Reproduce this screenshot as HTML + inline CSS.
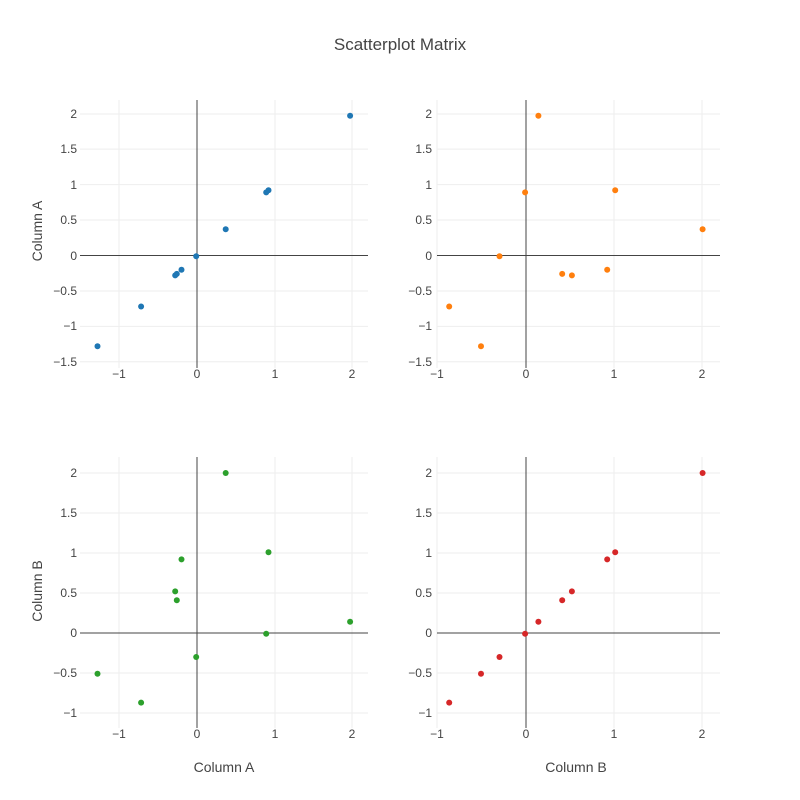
<!DOCTYPE html>
<html><head><meta charset="utf-8"><style>
body{margin:0;background:#fff}
svg{display:block;font-family:"Liberation Sans",sans-serif}
.g{stroke:#eee;stroke-width:1}
.z{stroke:#444;stroke-width:1}
.t{font-size:12px;fill:#444}
</style></head><body>
<svg width="800" height="800" xmlns="http://www.w3.org/2000/svg">
<rect width="800" height="800" fill="#fff"/>
<text x="400" y="50" text-anchor="middle" style="font-size:17px;fill:#444">Scatterplot Matrix</text>

<!-- Plot 1 -->
<g class="g">
<line x1="119" y1="100" x2="119" y2="368"/><line x1="275" y1="100" x2="275" y2="368"/><line x1="352" y1="100" x2="352" y2="368"/>
<line x1="80" y1="114" x2="368" y2="114"/><line x1="80" y1="149.1" x2="368" y2="149.1"/><line x1="80" y1="184.6" x2="368" y2="184.6"/><line x1="80" y1="220" x2="368" y2="220"/><line x1="80" y1="291" x2="368" y2="291"/><line x1="80" y1="326.4" x2="368" y2="326.4"/><line x1="80" y1="361.8" x2="368" y2="361.8"/>
</g>
<line class="z" x1="197" y1="100" x2="197" y2="368"/><line class="z" x1="80" y1="255.5" x2="368" y2="255.5"/>
<g fill="#1f77b4">
<circle cx="350.1" cy="115.8" r="3"/><circle cx="268.5" cy="190.3" r="3"/><circle cx="266.2" cy="192.4" r="3"/><circle cx="225.7" cy="229.3" r="3"/><circle cx="196.2" cy="256.2" r="3"/><circle cx="181.5" cy="269.7" r="3"/><circle cx="176.8" cy="273.9" r="3"/><circle cx="175.2" cy="275.4" r="3"/><circle cx="141.1" cy="306.5" r="3"/><circle cx="97.5" cy="346.3" r="3"/>
</g>
<g class="t" text-anchor="middle">
<text x="119" y="378">−1</text><text x="197" y="378">0</text><text x="275" y="378">1</text><text x="352" y="378">2</text>
</g>
<g class="t" text-anchor="end">
<text x="77" y="118">2</text><text x="77" y="153">1.5</text><text x="77" y="189">1</text><text x="77" y="224">0.5</text><text x="77" y="260">0</text><text x="77" y="295">−0.5</text><text x="77" y="330">−1</text><text x="77" y="366">−1.5</text>
</g>

<!-- Plot 2 -->
<g class="g">
<line x1="437" y1="100" x2="437" y2="368"/><line x1="614" y1="100" x2="614" y2="368"/><line x1="702" y1="100" x2="702" y2="368"/>
<line x1="437" y1="114" x2="720" y2="114"/><line x1="437" y1="149.1" x2="720" y2="149.1"/><line x1="437" y1="184.6" x2="720" y2="184.6"/><line x1="437" y1="220" x2="720" y2="220"/><line x1="437" y1="291" x2="720" y2="291"/><line x1="437" y1="326.4" x2="720" y2="326.4"/><line x1="437" y1="361.8" x2="720" y2="361.8"/>
</g>
<line class="z" x1="526" y1="100" x2="526" y2="368"/><line class="z" x1="437" y1="255.5" x2="720" y2="255.5"/>
<g fill="#ff7f0e">
<circle cx="538.4" cy="115.8" r="3"/><circle cx="525.1" cy="192.4" r="3"/><circle cx="615.2" cy="190.3" r="3"/><circle cx="702.6" cy="229.3" r="3"/><circle cx="499.5" cy="256.2" r="3"/><circle cx="562.2" cy="273.9" r="3"/><circle cx="571.9" cy="275.4" r="3"/><circle cx="607.2" cy="269.7" r="3"/><circle cx="449.2" cy="306.5" r="3"/><circle cx="481" cy="346.3" r="3"/>
</g>
<g class="t" text-anchor="middle">
<text x="437" y="378">−1</text><text x="526" y="378">0</text><text x="614" y="378">1</text><text x="702" y="378">2</text>
</g>
<g class="t" text-anchor="end">
<text x="432" y="118">2</text><text x="432" y="153">1.5</text><text x="432" y="189">1</text><text x="432" y="224">0.5</text><text x="432" y="260">0</text><text x="432" y="295">−0.5</text><text x="432" y="330">−1</text><text x="432" y="366">−1.5</text>
</g>

<!-- Plot 3 -->
<g class="g">
<line x1="119" y1="457" x2="119" y2="728"/><line x1="275" y1="457" x2="275" y2="728"/><line x1="352" y1="457" x2="352" y2="728"/>
<line x1="80" y1="473" x2="368" y2="473"/><line x1="80" y1="513" x2="368" y2="513"/><line x1="80" y1="553" x2="368" y2="553"/><line x1="80" y1="593" x2="368" y2="593"/><line x1="80" y1="673" x2="368" y2="673"/><line x1="80" y1="713" x2="368" y2="713"/>
</g>
<line class="z" x1="197" y1="457" x2="197" y2="728"/><line class="z" x1="80" y1="633" x2="368" y2="633"/>
<g fill="#2ca02c">
<circle cx="225.7" cy="473" r="3"/><circle cx="181.5" cy="559.4" r="3"/><circle cx="268.5" cy="552.2" r="3"/><circle cx="175.2" cy="591.4" r="3"/><circle cx="176.8" cy="600.2" r="3"/><circle cx="350.1" cy="621.8" r="3"/><circle cx="266.2" cy="633.8" r="3"/><circle cx="196.2" cy="657" r="3"/><circle cx="97.5" cy="673.8" r="3"/><circle cx="141.1" cy="702.6" r="3"/>
</g>
<g class="t" text-anchor="middle">
<text x="119" y="738">−1</text><text x="197" y="738">0</text><text x="275" y="738">1</text><text x="352" y="738">2</text>
</g>
<g class="t" text-anchor="end">
<text x="77" y="477">2</text><text x="77" y="517">1.5</text><text x="77" y="557">1</text><text x="77" y="597">0.5</text><text x="77" y="637">0</text><text x="77" y="677">−0.5</text><text x="77" y="717">−1</text>
</g>

<!-- Plot 4 -->
<g class="g">
<line x1="437" y1="457" x2="437" y2="728"/><line x1="614" y1="457" x2="614" y2="728"/><line x1="702" y1="457" x2="702" y2="728"/>
<line x1="437" y1="473" x2="720" y2="473"/><line x1="437" y1="513" x2="720" y2="513"/><line x1="437" y1="553" x2="720" y2="553"/><line x1="437" y1="593" x2="720" y2="593"/><line x1="437" y1="673" x2="720" y2="673"/><line x1="437" y1="713" x2="720" y2="713"/>
</g>
<line class="z" x1="526" y1="457" x2="526" y2="728"/><line class="z" x1="437" y1="633" x2="720" y2="633"/>
<g fill="#d62728">
<circle cx="702.6" cy="473" r="3"/><circle cx="615.2" cy="552.2" r="3"/><circle cx="607.2" cy="559.4" r="3"/><circle cx="571.9" cy="591.4" r="3"/><circle cx="562.2" cy="600.2" r="3"/><circle cx="538.4" cy="621.8" r="3"/><circle cx="525.1" cy="633.8" r="3"/><circle cx="499.5" cy="657" r="3"/><circle cx="481" cy="673.8" r="3"/><circle cx="449.2" cy="702.6" r="3"/>
</g>
<g class="t" text-anchor="middle">
<text x="437" y="738">−1</text><text x="526" y="738">0</text><text x="614" y="738">1</text><text x="702" y="738">2</text>
</g>
<g class="t" text-anchor="end">
<text x="432" y="477">2</text><text x="432" y="517">1.5</text><text x="432" y="557">1</text><text x="432" y="597">0.5</text><text x="432" y="637">0</text><text x="432" y="677">−0.5</text><text x="432" y="717">−1</text>
</g>

<!-- Axis titles -->
<g style="font-size:14px;fill:#444" text-anchor="middle">
<text x="224" y="772">Column A</text>
<text x="576" y="772">Column B</text>
<text transform="translate(42,231) rotate(-90)">Column A</text>
<text transform="translate(42,591) rotate(-90)">Column B</text>
</g>
</svg>
</body></html>
